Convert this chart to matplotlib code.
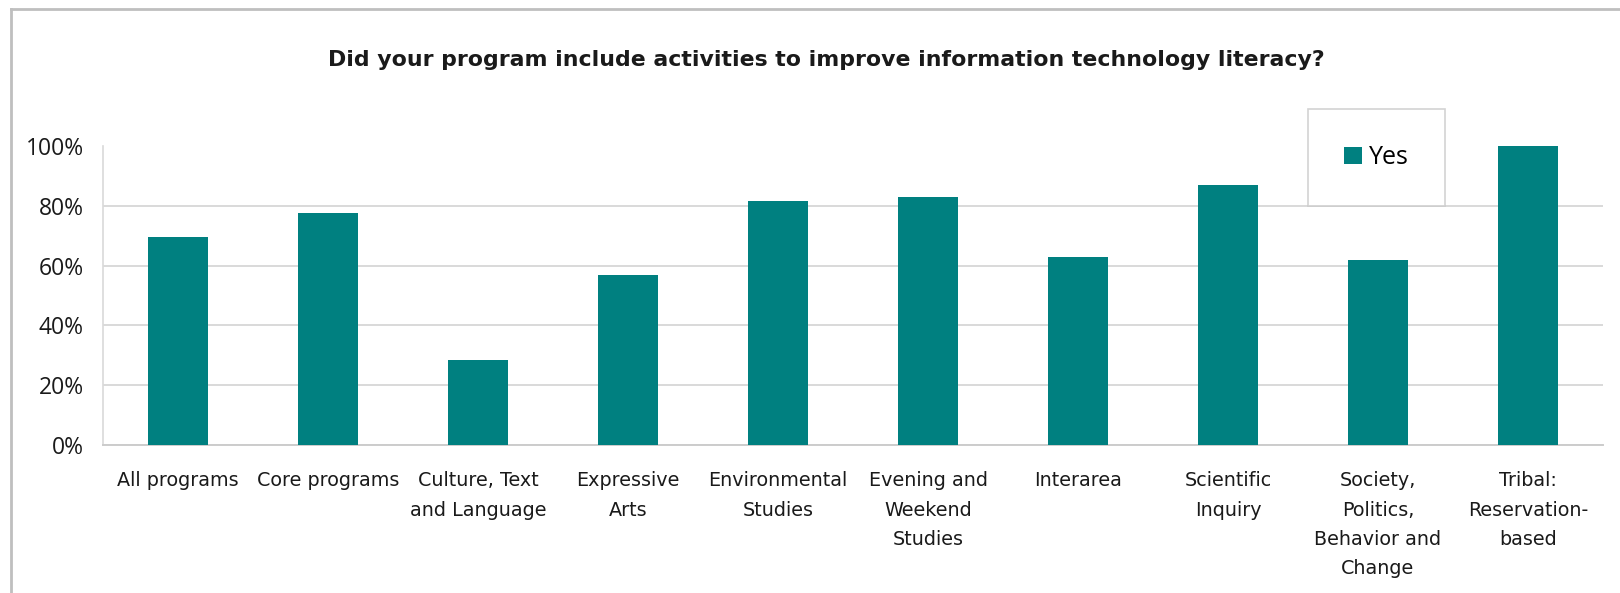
import matplotlib.pyplot as plt
from matplotlib.lines import Line2D
from matplotlib.ticker import PercentFormatter

# data
categories = ["All programs", "Core programs", "Culture, Text\nand Language",
              "Expressive\nArts", "Environmental\nStudies",
              "Evening and\nWeekend\nStudies", "Interarea",
              "Scientific\nInquiry", "Society,\nPolitics,\nBehavior and\nChange",
              "Tribal:\nReservation-\nbased"]
yes = [0.695, 0.775, 0.285, 0.57, 0.815, 0.83, 0.63, 0.87, 0.62, 1.0]
yticks = [0, 0.2, 0.4, 0.6, 0.8, 1.0]

teal = "#008080"
grid_c = "#d9d9d9"

fig = plt.figure(figsize=(16.2, 5.93), dpi=100)
ax = fig.add_axes([0.0636, 0.2496, 0.9259, 0.5042])

x = range(len(categories))
ax.bar(x, yes, width=0.4, color=teal, label="Yes", zorder=3)

ax.set_xlim(-0.5, len(categories) - 0.5)
ax.set_ylim(0, 1)
ax.set_yticks(yticks)
ax.yaxis.set_major_formatter(PercentFormatter(1.0, decimals=0))
ax.tick_params(axis="y", length=0, pad=14, labelsize=16.5, labelcolor="#1a1a1a")
for t in ax.get_yticklabels():
    t.set_fontfamily("Open Sans")

ax.set_xticks(list(x))
ax.set_xticklabels(categories, fontsize=13.8, color="#1a1a1a", linespacing=1.68)
ax.tick_params(axis="x", length=0, pad=19)

ax.yaxis.grid(True, color=grid_c, linewidth=1.4, zorder=0)
ax.get_ygridlines()[-1].set_visible(False)
for s in ["top", "right"]:
    ax.spines[s].set_visible(False)
ax.spines["left"].set_color(grid_c)
ax.spines["left"].set_linewidth(1.2)
ax.spines["bottom"].set_color("#cccccc")
ax.spines["bottom"].set_linewidth(1.4)

fig.text(0.51, 0.898, "Did your program include activities to improve information technology literacy?",
         ha="center", va="center", fontsize=15.8, fontweight="bold", color="#1a1a1a")

leg = fig.legend(loc="center", bbox_to_anchor=(1376.5 / 1620, 1 - 157.5 / 593),
                 prop={"family": "Open Sans", "size": 18},
                 handlelength=0.7, handleheight=0.7, handletextpad=0.3,
                 borderpad=1.45, fancybox=False, frameon=True)
leg.get_frame().set_edgecolor("#c8c8c8")
leg.get_frame().set_linewidth(1.2)

# outer chart border (top and left edges visible)
fig.add_artist(Line2D([11 / 1620, 1], [1 - 9 / 593, 1 - 9 / 593], color="#bfbfbf", linewidth=2))
fig.add_artist(Line2D([11 / 1620, 11 / 1620], [0, 1 - 9 / 593], color="#bfbfbf", linewidth=2))

fig.savefig("out.png", dpi=100)
